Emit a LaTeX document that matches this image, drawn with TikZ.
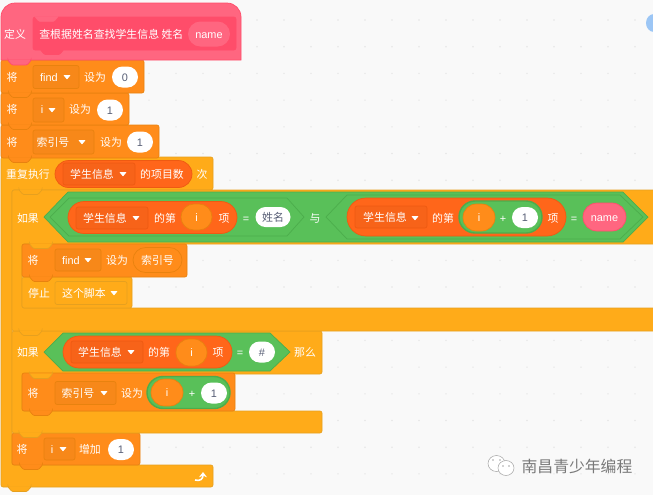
\documentclass[tikz,border=0pt]{standalone}
\usepackage{fontspec}
\setmainfont{Liberation Sans}
\newfontfamily\cjk{Noto Sans CJK SC}
\usepackage{xcolor}
\usetikzlibrary{arrows.meta, shapes.misc}

\definecolor{paper}{HTML}{F9F9F9}
\definecolor{griddot}{HTML}{E6E6E6}
\definecolor{varfill}{HTML}{FF8C1A}
\definecolor{varline}{HTML}{E8820F}
\definecolor{ctlfill}{HTML}{FFAB19}
\definecolor{ctlline}{HTML}{E6A01F}
\definecolor{deffill}{HTML}{FF6680}
\definecolor{defline}{HTML}{FF4D6A}
\definecolor{listfill}{HTML}{FF661A}
\definecolor{listline}{HTML}{EE5A12}
\definecolor{boolfill}{HTML}{59C059}
\definecolor{boolline}{HTML}{4CAD4C}
\definecolor{valtext}{HTML}{575E75}
\definecolor{blobfill}{HTML}{9CC6F5}

\tikzset{
  varblock/.style={fill=varfill,draw=varline,line width=0.4pt},
  ctlblock/.style={fill=ctlfill,draw=ctlline,line width=0.4pt},
  defblock/.style={fill=deffill,draw=defline,line width=0.4pt},
  proto/.style={fill=defline,draw=defline,line width=0.4pt},
  protodent/.style={fill=deffill,draw=deffill,line width=0.2pt},
  boolhex/.style={fill=boolfill,draw=boolline,line width=0.4pt},
  cn/.style={text=white,font=\cjk\fontsize{6.2}{7}\selectfont,inner sep=0pt,text height=5.5pt,text depth=0.3pt},
  lat/.style={text=white,font=\fontsize{6.2}{7}\selectfont,inner sep=0pt,text height=5pt,text depth=0pt},
  dropbox/.style 2 args={rectangle,rounded corners=1.2pt,minimum width=#1*0.02cm,minimum height=#2*0.02cm,inner sep=0pt,line width=0.4pt},
  vardrop/.style={fill=varfill!97!black,draw=varline},
  listdrop/.style={fill=listfill!97!black,draw=listline},
  ctldrop/.style={fill=ctlfill,draw=ctlline},
  pill/.style 2 args={rounded rectangle,minimum width=#1*0.02cm,minimum height=#2*0.02cm,inner sep=0pt,line width=0.4pt,text height=5pt,text depth=0pt},
  valpill/.style={fill=white,text=valtext,font=\fontsize{6.2}{7}\selectfont},
  valcn/.style={fill=white,text=valtext,font=\cjk\fontsize{6.2}{7}\selectfont,text height=5.5pt,text depth=0.3pt},
  varpill/.style={fill=varfill,draw=varline,text=white,font=\fontsize{6.2}{7}\selectfont},
  listpill/.style={fill=listfill,draw=listline},
  boolpill/.style={fill=boolfill,draw=boolline,line width=0.8pt},
}

% tab under a block
\newcommand{\stacktab}[3]{
  \path[#1,rounded corners=0.6pt] (#2,#3-0.6) -- (#2,#3) -- (#2+4,#3+4.5) -- (#2+19,#3+4.5) -- (#2+23,#3) -- (#2+23,#3-0.6);
}
% left x, top y, right x, bottom y
\newcommand{\stackblock}[5]{
  \draw[#1,rounded corners=1.2pt] (#2,#3) rectangle (#4,#5);
  \stacktab{#1}{#2+7.5}{#5}
}
\newcommand{\hexagon}[6]{
  \draw[boolhex] ({#1},{(#5+#6)/2}) -- (#2,#5) -- (#3,#5) -- ({#4},{(#5+#6)/2}) -- (#3,#6) -- (#2,#6) -- cycle;
}
\newcommand{\dropmark}[2]{
  \fill[white,rounded corners=0.3pt] (#1-3.6,#2-1.8) -- (#1+3.6,#2-1.8) -- (#1,#2+2.4) -- cycle;
}

\begin{document}
\begin{tikzpicture}[x=0.02cm,y=-0.02cm]
\useasboundingbox (0,0) rectangle (653,495);
\fill[paper] (0,0) rectangle (653,495);
\foreach \gx in {14,41,...,653}
  \foreach \gy in {20,46.7,...,495}
    \fill[griddot] (\gx,\gy) circle (0.8);
\fill[blobfill] (654,23) ellipse (8 and 9);

% repeat block and what is inside it
\draw[ctlblock,rounded corners=1.2pt] (1,157) -- (213,157) -- (213,190) -- (12,190) -- (12,465) -- (213,465) -- (213,487) -- (1,487) -- cycle;
\stacktab{ctlblock}{8}{487}
\stackblock{varblock}{12}{433}{140}{465}
\draw[ctlblock,rounded corners=1.2pt] (12,331) -- (322,331) -- (322,374) -- (22,374) -- (22,411) -- (322,411) -- (322,433) -- (12,433) -- cycle;
\stacktab{ctlblock}{19}{433}
\stackblock{varblock}{22}{373}{235}{411}
\stacktab{ctlblock}{29.5}{374}
\draw[ctlblock,rounded corners=1.2pt] (12,190) -- (660,190) -- (660,244) -- (22,244) -- (22,308) -- (660,308) -- (660,331) -- (12,331) -- cycle;
\stacktab{ctlblock}{19}{331}
\draw[ctlblock,rounded corners=1.2pt] (22,277) rectangle (132,308);
\stackblock{varblock}{22}{244}{187}{277}
\stacktab{ctlblock}{29.5}{244}
\stacktab{ctlblock}{19}{190}

% top of the stack
\stackblock{varblock}{1}{125}{159}{158}
\stackblock{varblock}{1}{93}{129}{125}
\stackblock{varblock}{1}{60}{144}{93}
\draw[defblock] (1,60) -- (1,17) arc (180:270:14) -- (227,3) arc (270:360:14) -- (241,60) -- cycle;
\stacktab{defblock}{8}{60.5}
\draw[proto,rounded corners=1.2pt] (33,17) rectangle (236,50);
\stacktab{proto}{40.5}{50}
\stacktab{protodent}{35}{17}

\node[cn] (deflabel) at (15,34) {定义};
\node[cn,anchor=west] (defname) at (39,34) {查根据姓名查找学生信息 姓名};
\node[pill={42}{25},fill=deffill,text=white,font=\fontsize{6.2}{7}\selectfont] (nameparam) at (209,34) {name};

% find = 0
\node[cn] (setfind) at (12,77) {将};
\node[dropbox={46}{23},vardrop] (findbox) at (56,77) {};
\node[lat] (findtxt) at (49,77) {find};
\dropmark{67}{77}
\node[cn] (setto) at (95,77) {设为};
\node[pill={26}{21},valpill] (findval) at (125,77) {0};

% i = 1
\node[cn] (seti) at (12,109) {将};
\node[dropbox={31}{24},vardrop] (ibox) at (48.5,110) {};
\node[lat] (itxt) at (42,109) {i};
\dropmark{52}{110}
\node[cn] (setito) at (80,109) {设为};
\node[pill={26}{21},valpill] (ival) at (110,110) {1};

% index = 1
\node[cn] (setidx) at (12,142) {将};
\node[dropbox={61}{24},vardrop] (idxbox) at (63.5,142) {};
\node[cn] (idxtxt) at (53,142) {索引号};
\dropmark{82}{142}
\node[cn] (setidxto) at (111,142) {设为};
\node[pill={26}{21},valpill] (idxval) at (140,142) {1};

% repeat head
\node[cn] (repeatlabel) at (28,174) {重复执行};
\node[pill={137}{27},listpill] (countpill) at (123.5,174) {};
\node[dropbox={72}{22},listdrop] (countbox) at (99,174) {};
\node[cn] (counttxt) at (92,174) {学生信息};
\dropmark{123}{174}
\node[cn] (countof) at (162,174) {的项目数};
\node[cn] (times) at (202,174) {次};

% first if
\node[cn] (iflabel) at (28,218) {如果};
\hexagon{44}{68}{623}{648}{192}{242}
\hexagon{50}{69}{287}{304}{198}{236}
\hexagon{326}{347}{620}{643}{195}{239}
\node[pill={169}{32},listpill] (itemA) at (152.5,217.5) {};
\node[dropbox={72}{22},listdrop] (itemAbox) at (112,218) {};
\node[cn] (itemAtxt) at (105,218) {学生信息};
\dropmark{136}{218}
\node[cn] (itemAof) at (165,218) {的第};
\node[pill={31}{26},varpill] (itemAi) at (196.5,217) {i};
\node[cn] (itemAitem) at (224,218) {项};
\node[lat] (eqA) at (246,218) {=};
\node[pill={35}{20},valcn] (nameval) at (273,217) {姓名};
\node[cn] (andlabel) at (315,218) {与};
\node[pill={219}{38},listpill] (itemB) at (456.5,217) {};
\node[dropbox={72}{22},listdrop] (itemBbox) at (391,217) {};
\node[cn] (itemBtxt) at (385,217) {学生信息};
\dropmark{415}{218}
\node[cn] (itemBof) at (443,218) {的第};
\node[pill={83}{32},boolpill] (sumA) at (500.5,217) {};
\node[pill={32}{27},varpill] (sumAi) at (479,217.5) {i};
\node[lat] (plusA) at (503,218) {+};
\node[pill={26}{21},valpill] (sumAone) at (525,217.5) {1};
\node[cn] (itemBitem) at (553,218) {项};
\node[lat] (eqB) at (574,218) {=};
\node[pill={43}{28},fill=deffill,draw=defline,text=white,font=\fontsize{6.2}{7}\selectfont,line width=0.4pt] (nameref) at (604.5,217) {name};

% find = index
\node[cn] (setfindB) at (33,260) {将};
\node[dropbox={46}{22},vardrop] (findboxB) at (78,260) {};
\node[lat] (findtxtB) at (71,260) {find};
\dropmark{88}{260}
\node[cn] (settoB) at (117,260) {设为};
\node[pill={49}{25},varpill,font=\cjk\fontsize{6.2}{7}\selectfont,text height=5.5pt,text depth=0.3pt] (idxref) at (157.5,260) {索引号};

% stop
\node[cn] (stoplabel) at (39,293) {停止};
\node[dropbox={72}{23},ctldrop] (stopbox) at (91,293) {};
\node[cn] (stoptxt) at (84,293) {这个脚本};
\dropmark{114}{293}

% second if
\node[cn] (iflabelB) at (28,352) {如果};
\hexagon{44}{63}{270}{290}{333}{371}
\node[pill={169}{32},listpill] (itemC) at (147.5,352) {};
\node[dropbox={72}{22},listdrop] (itemCbox) at (107,352) {};
\node[cn] (itemCtxt) at (100,352) {学生信息};
\dropmark{131}{352}
\node[cn] (itemCof) at (159,352) {的第};
\node[pill={31}{27},varpill] (itemCi) at (191.5,352.5) {i};
\node[cn] (itemCitem) at (218,352) {项};
\node[lat] (eqC) at (240,352) {=};
\node[pill={26}{21},valpill] (hashval) at (262,352) {\#};
\node[cn] (thenlabel) at (305,352) {那么};

% index = i + 1
\node[cn] (setidxB) at (33,393) {将};
\node[dropbox={61}{23},vardrop] (idxboxB) at (85.5,393) {};
\node[cn] (idxtxtB) at (78,393) {索引号};
\dropmark{104}{393}
\node[cn] (setidxtoB) at (132,393) {设为};
\node[pill={83}{32},boolpill] (sumB) at (188.5,392.5) {};
\node[pill={32}{27},varpill] (sumBi) at (167,392.5) {i};
\node[lat] (plusB) at (192,393) {+};
\node[pill={26}{21},valpill] (sumBone) at (214,393) {1};

% i + 1
\node[cn] (changei) at (22,449) {将};
\node[dropbox={31}{22},vardrop] (iboxB) at (59.5,449) {};
\node[lat] (itxtB) at (52,449) {i};
\dropmark{63}{449}
\node[cn] (changeby) at (90,449) {增加};
\node[pill={26}{21},valpill] (stepval) at (121,449.5) {1};

\draw[white,line width=0.9pt,-{Stealth[length=3pt,width=4.5pt]}] (195,480) .. controls (200,481.5) and (203,479) .. (203,472);

% mark in the corner
\draw[gray!70,fill=white,line width=0.3pt] (496.5,463.5) ellipse (8.5 and 8);
\fill[gray!70] (493,460) circle (0.9) (500,460) circle (0.9);
\draw[gray!70,fill=white,line width=0.3pt] (506,468) ellipse (8 and 7.5);
\fill[gray!70] (503,466) circle (0.8) (509,466) circle (0.8);
\node[text=gray!95!black,font=\cjk\fontsize{9}{10}\selectfont,inner sep=0pt] (marktxt) at (577,466) {南昌青少年编程};
\end{tikzpicture}
\end{document}
